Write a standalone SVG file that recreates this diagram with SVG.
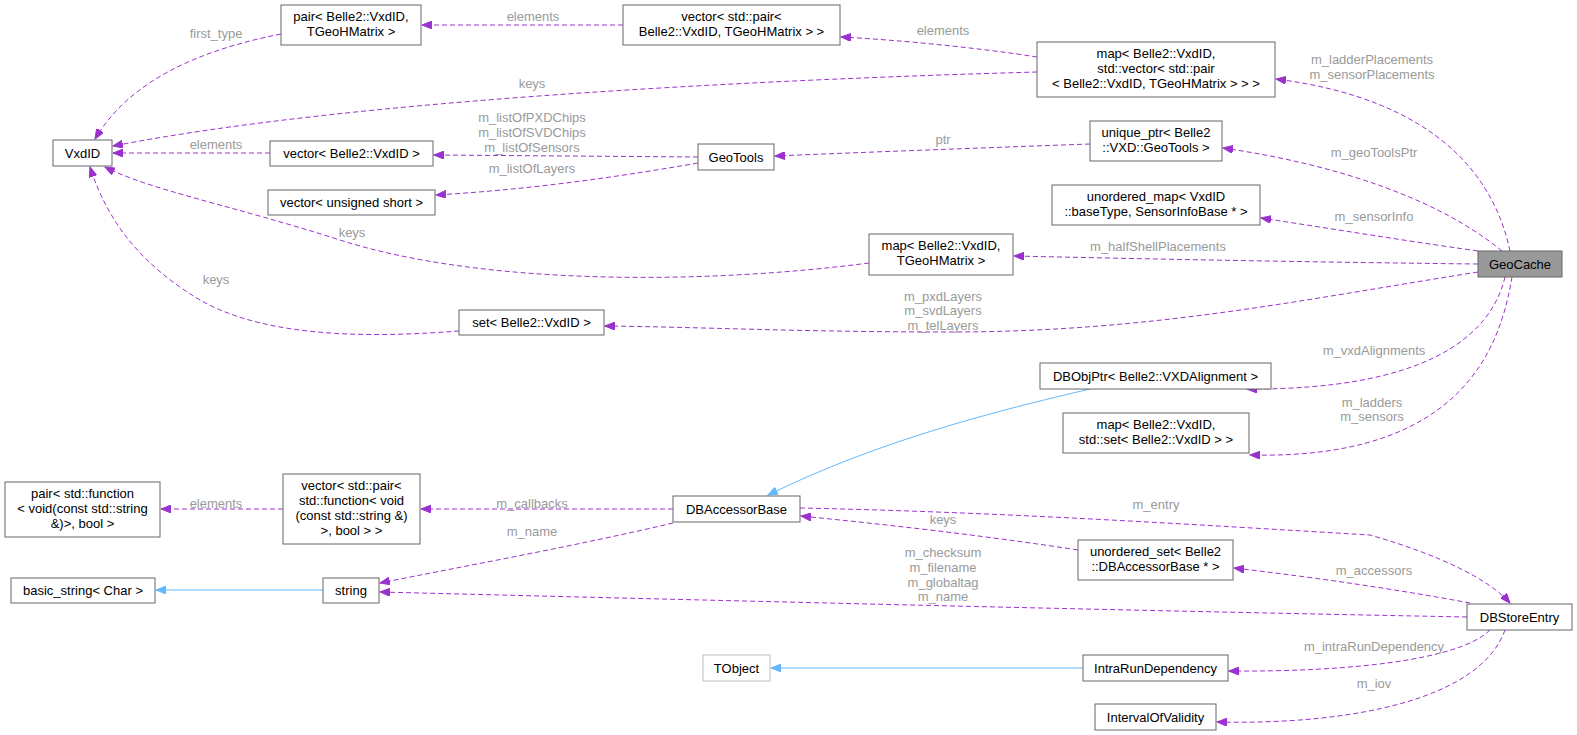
<svg xmlns="http://www.w3.org/2000/svg" width="1577" height="735" viewBox="0 0 1577 735">
<style>
.n rect{fill:#fff;stroke:#666;stroke-width:1}
.n text{font-family:"Liberation Sans",Arial,sans-serif;font-size:13px;fill:#000;text-anchor:middle}
.e path{fill:none;stroke:#9a32cd;stroke-width:1;stroke-dasharray:5,3}
.e path.b{stroke:#63b8ff;stroke-dasharray:none}
.e text{font-family:"Liberation Sans",Arial,sans-serif;font-size:13px;fill:#9a9a9a;text-anchor:middle}
</style>
<defs>
<marker id="ap" markerWidth="11" markerHeight="8" refX="10" refY="4" orient="auto" markerUnits="userSpaceOnUse"><path d="M0,0 L10,4 L0,8 z" fill="#9a32cd" stroke="#9a32cd"/></marker>
<marker id="ab" markerWidth="11" markerHeight="8" refX="10" refY="4" orient="auto" markerUnits="userSpaceOnUse"><path d="M0,0 L10,4 L0,8 z" fill="#63b8ff" stroke="#63b8ff"/></marker>
</defs>
<rect width="1577" height="735" fill="#fff"/>
<g class="e" id="edges">
<path d="M623,25 L422,25" marker-end="url(#ap)"/><text x="533" y="21">elements</text>
<path d="M1037,57 C980,48 900,40 841,37" marker-end="url(#ap)"/><text x="943" y="35">elements</text>
<path d="M1037,72 C750,80 350,100 113,146" marker-end="url(#ap)"/><text x="532" y="88">keys</text>
<path d="M281,34 C200,50 130,80 95,139" marker-end="url(#ap)"/><text x="216" y="38">first_type</text>
<path d="M270,153 L113,153" marker-end="url(#ap)"/><text x="216" y="149">elements</text>
<path d="M698,157 L434,155" marker-end="url(#ap)"/><text x="532" y="122">m_listOfPXDChips</text><text x="532" y="137">m_listOfSVDChips</text><text x="532" y="152">m_listOfSensors</text>
<path d="M698,163 C600,180 520,190 436,195" marker-end="url(#ap)"/><text x="532" y="173">m_listOfLayers</text>
<path d="M1090,144 C980,148 870,152 775,156" marker-end="url(#ap)"/><text x="943" y="144">ptr</text>
<path d="M869,263 C700,285 480,285 340,240 C230,205 150,190 105,167" marker-end="url(#ap)"/><text x="352" y="237">keys</text>
<path d="M459,331 C380,337 270,340 200,300 C150,270 110,230 90,167" marker-end="url(#ap)"/><text x="216" y="284">keys</text>
<path d="M1510,251 C1495,180 1440,100 1276,79" marker-end="url(#ap)"/><text x="1372" y="64">m_ladderPlacements</text><text x="1372" y="79">m_sensorPlacements</text>
<path d="M1502,251 C1440,200 1340,165 1223,148" marker-end="url(#ap)"/><text x="1374" y="157">m_geoToolsPtr</text>
<path d="M1478,251 C1400,240 1340,230 1261,218" marker-end="url(#ap)"/><text x="1374" y="221">m_sensorInfo</text>
<path d="M1478,264 C1300,262 1150,259 1014,256" marker-end="url(#ap)"/><text x="1158" y="251">m_halfShellPlacements</text>
<path d="M1478,272 C1300,300 1150,332 950,332 C800,332 700,327 605,326" marker-end="url(#ap)"/><text x="943" y="301">m_pxdLayers</text><text x="943" y="315">m_svdLayers</text><text x="943" y="330">m_telLayers</text>
<path d="M1505,277 C1490,340 1420,390 1247,389" marker-end="url(#ap)"/><text x="1374" y="355">m_vxdAlignments</text>
<path d="M1512,277 C1500,350 1460,460 1250,455" marker-end="url(#ap)"/><text x="1372" y="407">m_ladders</text><text x="1372" y="421">m_sensors</text>
<path class="b" d="M1090,389 C1000,410 880,440 768,495" marker-end="url(#ab)"/>
<path d="M673,509 L421,509" marker-end="url(#ap)"/><text x="532" y="508">m_callbacks</text>
<path d="M283,509 L161,509" marker-end="url(#ap)"/><text x="216" y="508">elements</text>
<path d="M673,523 C580,545 470,565 380,583" marker-end="url(#ap)"/><text x="532" y="536">m_name</text>
<path class="b" d="M323,590 L156,590" marker-end="url(#ab)"/>
<path d="M800,508 C1000,512 1200,525 1370,535 C1440,555 1490,580 1510,603" marker-end="url(#ap)"/><text x="1156" y="509">m_entry</text>
<path d="M1078,550 C980,535 890,525 801,516" marker-end="url(#ap)"/><text x="943" y="524">keys</text>
<path d="M1467,617 C1100,610 700,600 380,592" marker-end="url(#ap)"/><text x="943" y="557">m_checksum</text><text x="943" y="572">m_filename</text><text x="943" y="587">m_globaltag</text><text x="943" y="601">m_name</text>
<path d="M1470,603 C1400,590 1320,578 1234,568" marker-end="url(#ap)"/><text x="1374" y="575">m_accessors</text>
<path class="b" d="M1083,668 L771,668" marker-end="url(#ab)"/>
<path d="M1490,630 C1460,660 1350,672 1229,671" marker-end="url(#ap)"/><text x="1374" y="651">m_intraRunDependency</text>
<path d="M1505,630 C1480,700 1350,725 1217,722" marker-end="url(#ap)"/><text x="1374" y="688">m_iov</text>
</g>
<g class="n" id="VxdID"><rect x="53" y="140" width="59" height="26"/><text x="82.5" y="158">VxdID</text></g>
<g class="n" id="pairVT"><rect x="281" y="5" width="140" height="40"/><text x="351" y="21">pair&lt; Belle2::VxdID,</text><text x="351" y="36">TGeoHMatrix &gt;</text></g>
<g class="n" id="vecPairVT"><rect x="623" y="5" width="217" height="40"/><text x="731.5" y="21">vector&lt; std::pair&lt;</text><text x="731.5" y="36">Belle2::VxdID, TGeoHMatrix &gt; &gt;</text></g>
<g class="n" id="mapBig"><rect x="1037" y="42" width="238" height="55"/><text x="1156" y="58">map&lt; Belle2::VxdID,</text><text x="1156" y="73">std::vector&lt; std::pair</text><text x="1156" y="88">&lt; Belle2::VxdID, TGeoHMatrix &gt; &gt; &gt;</text></g>
<g class="n" id="vecVxdID"><rect x="270" y="141" width="163" height="25"/><text x="351.5" y="158">vector&lt; Belle2::VxdID &gt;</text></g>
<g class="n" id="GeoTools"><rect x="698" y="144" width="76" height="26"/><text x="736" y="162">GeoTools</text></g>
<g class="n" id="vecUShort"><rect x="268" y="190" width="167" height="25"/><text x="351.5" y="207">vector&lt; unsigned short &gt;</text></g>
<g class="n" id="uniquePtr"><rect x="1090" y="121" width="132" height="40"/><text x="1156" y="137">unique_ptr&lt; Belle2</text><text x="1156" y="152">::VXD::GeoTools &gt;</text></g>
<g class="n" id="umap"><rect x="1052" y="185" width="208" height="40"/><text x="1156" y="201">unordered_map&lt; VxdID</text><text x="1156" y="216">::baseType, SensorInfoBase * &gt;</text></g>
<g class="n" id="mapVT"><rect x="869" y="234" width="144" height="41"/><text x="941" y="250">map&lt; Belle2::VxdID,</text><text x="941" y="265">TGeoHMatrix &gt;</text></g>
<g class="n" id="GeoCache"><rect x="1478" y="251" width="84" height="26" style="fill:#999"/><text x="1520" y="269">GeoCache</text></g>
<g class="n" id="setVxdID"><rect x="459" y="310" width="145" height="25"/><text x="531.5" y="327">set&lt; Belle2::VxdID &gt;</text></g>
<g class="n" id="DBObjPtr"><rect x="1040" y="363" width="231" height="26"/><text x="1155.5" y="381">DBObjPtr&lt; Belle2::VXDAlignment &gt;</text></g>
<g class="n" id="mapSet"><rect x="1063" y="413" width="186" height="40"/><text x="1156" y="429">map&lt; Belle2::VxdID,</text><text x="1156" y="444">std::set&lt; Belle2::VxdID &gt; &gt;</text></g>
<g class="n" id="pairFn"><rect x="5" y="482" width="155" height="55"/><text x="82.5" y="498">pair&lt; std::function</text><text x="82.5" y="513">&lt; void(const std::string</text><text x="82.5" y="528">&amp;)&gt;, bool &gt;</text></g>
<g class="n" id="vecPairFn"><rect x="283" y="474" width="137" height="70"/><text x="351.5" y="490">vector&lt; std::pair&lt;</text><text x="351.5" y="505">std::function&lt; void</text><text x="351.5" y="520">(const std::string &amp;)</text><text x="351.5" y="535">&gt;, bool &gt; &gt;</text></g>
<g class="n" id="DBAccessorBase"><rect x="673" y="496" width="127" height="26"/><text x="736.5" y="514">DBAccessorBase</text></g>
<g class="n" id="uset"><rect x="1078" y="540" width="155" height="40"/><text x="1155.5" y="556">unordered_set&lt; Belle2</text><text x="1155.5" y="571">::DBAccessorBase * &gt;</text></g>
<g class="n" id="basicString"><rect x="11" y="578" width="144" height="25"/><text x="83" y="595">basic_string&lt; Char &gt;</text></g>
<g class="n" id="string"><rect x="323" y="578" width="56" height="25"/><text x="351" y="595">string</text></g>
<g class="n" id="DBStoreEntry"><rect x="1467" y="604" width="105" height="26"/><text x="1519.5" y="622">DBStoreEntry</text></g>
<g class="n" id="TObject"><rect x="703" y="655" width="67" height="26" style="stroke:#bfbfbf"/><text x="736.5" y="673">TObject</text></g>
<g class="n" id="IntraRunDependency"><rect x="1083" y="655" width="145" height="26"/><text x="1155.5" y="673">IntraRunDependency</text></g>
<g class="n" id="IntervalOfValidity"><rect x="1095" y="704" width="121" height="26"/><text x="1155.5" y="722">IntervalOfValidity</text></g>
</svg>
